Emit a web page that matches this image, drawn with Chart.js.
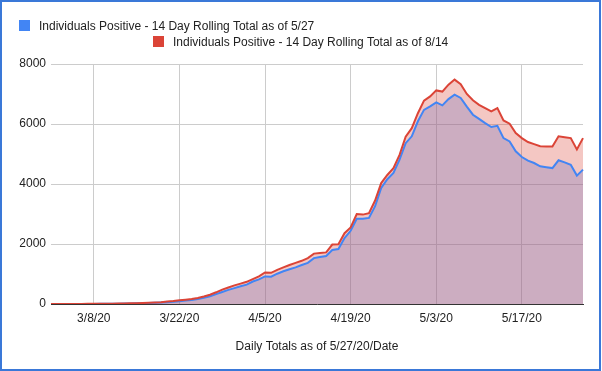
<!DOCTYPE html>
<html>
<head>
<meta charset="utf-8">
<script src="https://cdn.jsdelivr.net/npm/chart.js@4"></script>
<style>
  html, body { margin: 0; padding: 0; background: #fff; }
  #wrap { position: relative; width: 602px; height: 371px; font-family: "Liberation Sans", Arial, sans-serif; }
  #frame { position: absolute; left: 0; top: 0; width: 601px; height: 371px; box-sizing: border-box; border: 2px solid #3a78d8; pointer-events: none; }
  .lg { position: absolute; font-size: 12px; color: #222; white-space: nowrap; line-height: 12px; }
  .lg span { position: absolute; left: -20px; top: 0.5px; width: 11px; height: 11px; }
</style>
</head>
<body>
<div id="wrap">
  <canvas id="grafico" width="602" height="371"></canvas>
  <div id="legenda"></div>
  <div id="frame"></div>
</div>
<script>
// dias 3/1/20 .. 5/27/20
var datas = [
  '3/1/20','3/2/20','3/3/20','3/4/20','3/5/20','3/6/20','3/7/20','3/8/20','3/9/20','3/10/20',
  '3/11/20','3/12/20','3/13/20','3/14/20','3/15/20','3/16/20','3/17/20','3/18/20','3/19/20','3/20/20',
  '3/21/20','3/22/20','3/23/20','3/24/20','3/25/20','3/26/20','3/27/20','3/28/20','3/29/20','3/30/20',
  '3/31/20','4/1/20','4/2/20','4/3/20','4/4/20','4/5/20','4/6/20','4/7/20','4/8/20','4/9/20',
  '4/10/20','4/11/20','4/12/20','4/13/20','4/14/20','4/15/20','4/16/20','4/17/20','4/18/20','4/19/20',
  '4/20/20','4/21/20','4/22/20','4/23/20','4/24/20','4/25/20','4/26/20','4/27/20','4/28/20','4/29/20',
  '4/30/20','5/1/20','5/2/20','5/3/20','5/4/20','5/5/20','5/6/20','5/7/20','5/8/20','5/9/20',
  '5/10/20','5/11/20','5/12/20','5/13/20','5/14/20','5/15/20','5/16/20','5/17/20','5/18/20','5/19/20',
  '5/20/20','5/21/20','5/22/20','5/23/20','5/24/20','5/25/20','5/26/20','5/27/20'
];

var totais527 = [
  0, 0, 0, 0, 1, 2, 3, 4, 5, 7,
  9, 11, 14, 17, 21, 26, 32, 40, 50, 62,
  77, 95, 115, 130, 165, 205, 255, 330, 400, 470,
  530, 590, 645, 750, 820, 920, 910, 1010, 1090, 1160,
  1220, 1300, 1370, 1530, 1570, 1600, 1800, 1830, 2200, 2440,
  2840, 2840, 2870, 3260, 3870, 4160, 4370, 4810, 5360, 5590,
  6090, 6470, 6590, 6720, 6620, 6830, 6980, 6870, 6580, 6310,
  6170, 6030, 5900, 5940, 5530, 5420, 5090, 4900, 4780, 4700,
  4590, 4560, 4530, 4790, 4720, 4640, 4280, 4480
];

var totais814 = [
  0, 0, 0, 0, 2, 3, 5, 6, 8, 10,
  12, 15, 18, 22, 27, 33, 40, 50, 62, 80,
  100, 125, 145, 165, 200, 250, 310, 390, 480, 550,
  620, 680, 740, 830, 920, 1050, 1040, 1140, 1220, 1300,
  1370, 1440, 1530, 1680, 1700, 1720, 1980, 1990, 2360, 2550,
  3000, 2980, 3030, 3450, 4030, 4300, 4530, 4970, 5580, 5860,
  6360, 6780, 6920, 7120, 7080, 7310, 7480, 7330, 7000, 6790,
  6640, 6530, 6420, 6530, 6120, 6010, 5700, 5530, 5400, 5330,
  5260, 5250, 5250, 5590, 5560, 5530, 5150, 5530
];

var ticksY = [0, 2000, 4000, 6000, 8000];

var ctx = document.getElementById('grafico');
var grafico = new Chart(ctx, {
    type: 'line',
    data: {
        labels: datas,
        datasets: [{
                label: 'Individuals Positive - 14 Day Rolling Total as of 5/27',
                data: totais527,
                borderColor: '#4285f4',
                backgroundColor: 'rgba(66, 133, 244, 0.3)',
                fill: 'origin',
                order: 2
            },
            {
                label: 'Individuals Positive - 14 Day Rolling Total as of 8/14',
                data: totais814,
                borderColor: '#db4437',
                backgroundColor: 'rgba(219, 68, 55, 0.3)',
                fill: 'origin',
                order: 1
            }
        ]
    },
    options: {
        responsive: false,
        animation: false,
        events: [],
        elements: {
            line: { borderWidth: 2, tension: 0 },
            point: { radius: 0 }
        },
        layout: { padding: { top: 64, right: 19, bottom: 0, left: 0 } },
        plugins: {
            legend: { display: false },
            tooltip: { enabled: false },
            filler: { drawTime: 'beforeDatasetsDraw' }
        },
        scales: {
            x: {
                type: 'category',
                offset: false,
                afterFit: function (s) { s.height = 67; },
                grid: { color: '#cccccc', drawTicks: false, offset: false },
                border: { color: '#333333', width: 1 },
                ticks: {
                    autoSkip: false,
                    maxRotation: 0,
                    padding: 7,
                    color: '#222222',
                    font: { family: '"Liberation Sans", Arial', size: 12 },
                    callback: function (v, i) { return i % 14 === 7 ? datas[i] : null; }
                },
                title: {
                    display: true,
                    text: 'Daily Totals as of 5/27/20/Date',
                    color: '#222222',
                    font: { family: '"Liberation Sans", Arial', size: 12 },
                    padding: { top: 0, bottom: 17 }
                }
            },
            y: {
                min: 0,
                max: 8000,
                afterFit: function (s) { s.width = 51; },
                afterBuildTicks: function (s) { s.ticks = ticksY.map(function (v) { return { value: v }; }); },
                grid: { color: '#cccccc', drawTicks: false },
                border: { display: false },
                ticks: {
                    padding: 5,
                    color: '#222222',
                    font: { family: '"Liberation Sans", Arial', size: 12 },
                    callback: function (v) { return String(v); }
                }
            }
        }
    }
});

// legenda no estilo do google charts, em duas linhas
var posLegenda = [[39, 19.5], [173, 35.5]];
var legenda = document.getElementById('legenda');
grafico.data.datasets.forEach(function (d, i) {
    var el = document.createElement('div');
    el.className = 'lg';
    el.style.left = posLegenda[i][0] + 'px';
    el.style.top = posLegenda[i][1] + 'px';
    el.innerHTML = '<span style="background:' + d.borderColor + '"></span>' + d.label;
    legenda.appendChild(el);
});
</script>
</body>
</html>
